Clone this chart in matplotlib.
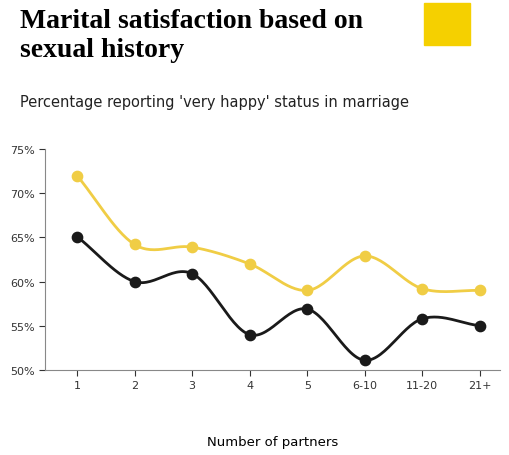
import numpy as np
import matplotlib
matplotlib.use("Agg")
import matplotlib.pyplot as plt
from matplotlib.patches import Rectangle

categories = ["1", "2", "3", "4", "5", "6-10", "11-20", "21+"]
yellow_vals = [72.0, 64.2, 63.9, 62.0, 59.0, 62.9, 59.2, 59.0]
black_vals = [65.1, 60.0, 60.9, 54.0, 56.9, 51.1, 55.8, 55.0]
yticks = [50, 55, 60, 65, 70, 75]

def smooth(x, y, n=30):
    x = np.asarray(x, float); y = np.asarray(y, float)
    m = np.zeros_like(y)
    m[1:-1] = (y[2:] - y[:-2]) / (x[2:] - x[:-2])
    m[0] = y[1] - y[0]; m[-1] = y[-1] - y[-2]
    xs, ys = [], []
    for i in range(len(x) - 1):
        t = np.linspace(0, 1, n)
        h = x[i+1] - x[i]
        h00 = 2*t**3 - 3*t**2 + 1; h10 = t**3 - 2*t**2 + t
        h01 = -2*t**3 + 3*t**2; h11 = t**3 - t**2
        xs.append(x[i] + t*h)
        ys.append(h00*y[i] + h10*h*m[i] + h01*y[i+1] + h11*h*m[i+1])
    return np.concatenate(xs), np.concatenate(ys)

fig = plt.figure(figsize=(5.09, 4.56), dpi=100)
ax = fig.add_axes([45/509, 1-371/456, 455/509, 221/456])
x = np.arange(len(categories))
yc, bc = "#f0cd45", "#1a1a1a"
for vals, c in [(yellow_vals, yc), (black_vals, bc)]:
    sx, sy = smooth(x, vals)
    ax.plot(sx, sy, color=c, lw=2, zorder=2)
    ax.scatter(x, vals, color=c, s=55, zorder=3)
ax.set_xlim(-0.556, 7.35)
ax.set_ylim(50, 75)
ax.set_yticks(yticks)
ax.set_yticklabels([f"{v}%" for v in yticks])
ax.set_xticks(x)
ax.set_xticklabels(categories)
for s in ["top", "right"]:
    ax.spines[s].set_visible(False)
ax.spines["left"].set_color("#888")
ax.spines["bottom"].set_color("#888")
ax.tick_params(labelsize=8, colors="#333", length=4)
ax.set_xlabel("Number of partners", fontsize=9.5, labelpad=32)

fig.text(20/509, 1-36/456, "Marital satisfaction based on\nsexual history", fontsize=20,
         fontweight="bold", family="Liberation Serif", va="center", linespacing=1.2)
fig.text(20/509, 1-103/456, "Percentage reporting 'very happy' status in marriage",
         fontsize=10.5, va="center", color="#222")
fig.patches.append(Rectangle((424/509, 1-46/456), 46/509, 42/456,
                             transform=fig.transFigure, color="#f5d000"))
fig.savefig("out.png", dpi=100, facecolor="white")
